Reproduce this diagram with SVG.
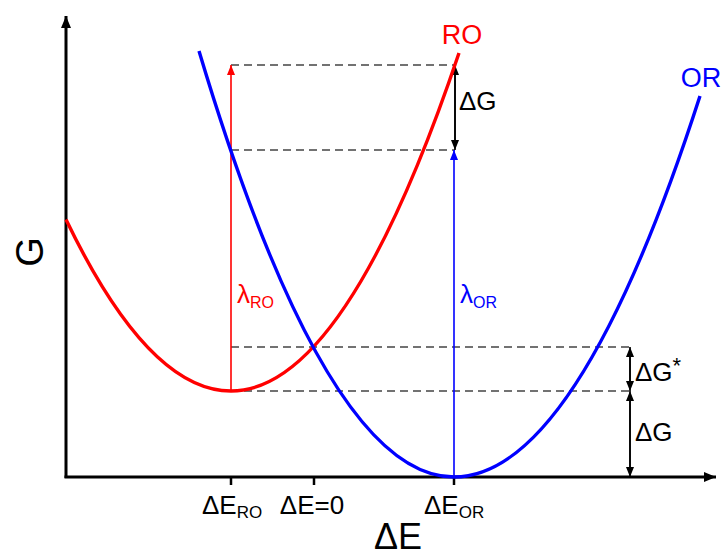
<svg xmlns="http://www.w3.org/2000/svg" width="722" height="557" viewBox="0 0 722 557">
<style>
text{font-family:"Liberation Sans",Arial,sans-serif}
.ax{stroke:#000;stroke-width:3;fill:none}
.tick{stroke:#000;stroke-width:2.5}
.dash{stroke:#444;stroke-width:1.3;stroke-dasharray:8,5;fill:none}
.curve{fill:none;stroke-width:3.4}
.blk{stroke:#000;stroke-width:1.6;fill:none}
</style>
<defs>
<marker id="ah" viewBox="0 0 10 10" refX="10" refY="5" markerWidth="10" markerHeight="10" markerUnits="userSpaceOnUse" orient="auto"><path d="M0,1 L10,5 L0,9 Z" fill="#000"/></marker>
<marker id="ahr" viewBox="0 0 10 10" refX="10" refY="5" markerWidth="10" markerHeight="10" markerUnits="userSpaceOnUse" orient="auto"><path d="M0,1 L10,5 L0,9 Z" fill="#f00"/></marker>
<marker id="ahb" viewBox="0 0 10 10" refX="10" refY="5" markerWidth="10" markerHeight="10" markerUnits="userSpaceOnUse" orient="auto"><path d="M0,1 L10,5 L0,9 Z" fill="#00f"/></marker>
<marker id="big" viewBox="0 0 12 12" refX="12" refY="6" markerWidth="12" markerHeight="12" markerUnits="userSpaceOnUse" orient="auto"><path d="M0,1 L12,6 L0,11 Z" fill="#000"/></marker>
</defs>
<g id="axes">
<path class="ax" d="M66,478 L66,16" marker-end="url(#big)"/>
<path class="ax" d="M64.5,477 L716,477" marker-end="url(#big)"/>
<line class="tick" x1="231" y1="477" x2="231" y2="485"/>
<line class="tick" x1="314" y1="477" x2="314" y2="485"/>
<line class="tick" x1="454" y1="477" x2="454" y2="485"/>
<text x="43" y="252" font-size="38" text-anchor="middle" transform="rotate(-90 43 252)">G</text>
<text x="398" y="549" font-size="36" text-anchor="middle">ΔE</text>
</g>
<g id="connectors">
<line class="dash" x1="231" y1="65" x2="455" y2="65"/>
<line class="dash" x1="231" y1="150" x2="455" y2="150"/>
<line class="dash" x1="231" y1="347" x2="631" y2="347"/>
<line class="dash" x1="231" y1="391" x2="631" y2="391"/>
<line x1="231" y1="391" x2="231" y2="65" stroke="#f00" stroke-width="1.6" marker-end="url(#ahr)"/>
<line x1="454" y1="477" x2="454" y2="150" stroke="#00f" stroke-width="1.6" marker-end="url(#ahb)"/>
<line class="blk" x1="455" y1="70" x2="455" y2="150" marker-end="url(#ah)"/>
<line class="blk" x1="455" y1="145" x2="455" y2="65" marker-end="url(#ah)"/>
<line class="blk" x1="630" y1="352" x2="630" y2="391" marker-end="url(#ah)"/>
<line class="blk" x1="630" y1="386" x2="630" y2="347" marker-end="url(#ah)"/>
<line class="blk" x1="630" y1="396" x2="630" y2="477" marker-end="url(#ah)"/>
<line class="blk" x1="630" y1="472" x2="630" y2="391" marker-end="url(#ah)"/>
</g>
<g id="RO">
<path class="curve" stroke="#f00" d="M66,219.5 Q148.5,391 231,391 Q345,391 459,53"/>
<text x="462" y="44" font-size="27" fill="#f00" text-anchor="middle">RO</text>
</g>
<g id="OR">
<path class="curve" stroke="#00f" d="M199,51 Q326.5,477 454,477 Q577,477 700,96"/>
<text x="701" y="87" font-size="27" fill="#00f" text-anchor="middle">OR</text>
</g>
<g id="labels">
<text x="237" y="303" font-size="26" fill="#f00">λ<tspan font-size="16" dy="5">RO</tspan></text>
<text x="460" y="303" font-size="26" fill="#00f">λ<tspan font-size="16" dy="5">OR</tspan></text>
<text x="459" y="110" font-size="26">ΔG</text>
<text x="635" y="381" font-size="26">ΔG<tspan font-size="22" dy="-8">*</tspan></text>
<text x="635" y="441" font-size="26">ΔG</text>
<text x="202" y="514" font-size="26">ΔE<tspan font-size="17" dy="4">RO</tspan></text>
<text x="312" y="514" font-size="26" text-anchor="middle">ΔE=0</text>
<text x="424" y="514" font-size="26">ΔE<tspan font-size="17" dy="4">OR</tspan></text>
</g>
</svg>
